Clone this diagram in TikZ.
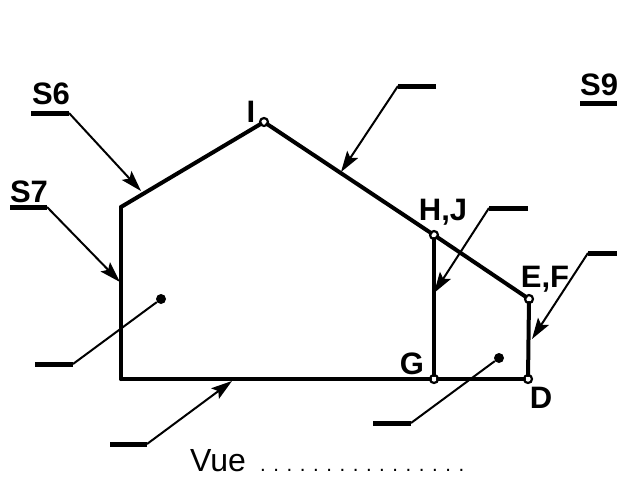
\documentclass[tikz,border=0pt]{standalone}
\usepackage{fontspec}
\setmainfont{Liberation Sans}
\usepackage{tkz-graph}
\usetikzlibrary{arrows.meta}
\tikzset{
  outline/.style={line cap=round},
  bar/.style={line width=5pt},
  leader/.style={line width=2pt,-{Stealth[length=21pt,width=13pt,inset=4pt]}},
  plain leader/.style={line width=2pt},
  point/.style={font=\bfseries\fontsize{31}{31}\selectfont,inner sep=0pt},
  dot/.style={circle,fill=black,inner sep=0pt,minimum size=10pt}
}
\begin{document}
\begin{tikzpicture}[x=1pt,y=-1pt]
        \useasboundingbox (0,0) rectangle (617,477);
        \GraphInit[vstyle=Normal]
        \SetVertexSimple[MinSize=8pt,LineWidth=2.2pt,LineColor=black,FillColor=white]
        \SetUpEdge[lw=4pt,color=black]
        \Vertex[x=264,y=122,NoLabel]{I}
        \Vertex[x=434,y=235,NoLabel]{H}
        \Vertex[x=529,y=299,NoLabel]{E}
        \Vertex[x=528,y=379,NoLabel]{D}
        \Vertex[x=434,y=379,NoLabel]{G}
        \coordinate (K) at (121,207);
        \coordinate (L) at (121,379);
        \Edge[style={outline}](K)(I)
        \Edge[style={outline}](I)(H)
        \Edge[style={outline}](H)(E)
        \Edge[style={outline}](E)(D)
        \Edge[style={outline}](D)(G)
        \Edge[style={outline}](G)(H)
        \Edge[style={outline}](G)(L)
        \Edge[style={outline}](L)(K)
        % labels of the points
        \node[point] (nI) at (251,112) {I};
        \node[point] (nH) at (443,212) {H,J};
        \node[point] (nE) at (545,279) {E,F};
        \node[point] (nG) at (412,364) {G};
        \node[point] (nD) at (541,398) {D};
        % surfaces
        \node[point] (nS6) at (51,94) {S6};
        \node[point] (nS7) at (29,192) {S7};
        \node[point,anchor=west] (nS9) at (580,85) {S9};
        \coordinate (a1) at (31,113);   \coordinate (a2) at (69,113);
        \coordinate (b1) at (10,207);   \coordinate (b2) at (47,207);
        \coordinate (c1) at (436,86);   \coordinate (c2) at (398,86);
        \coordinate (d1) at (528,208);  \coordinate (d2) at (489,208);
        \coordinate (e1) at (617,253);  \coordinate (e2) at (588,253);
        \coordinate (f1) at (580,103);  \coordinate (f2) at (617,103);
        \coordinate (g1) at (35,364);   \coordinate (g2) at (73,364);
        \coordinate (h1) at (373,423);  \coordinate (h2) at (411,423);
        \coordinate (i1) at (110,444);  \coordinate (i2) at (147,444);
        \draw[bar] (a1) -- (a2);
        \draw[bar] (b1) -- (b2);
        \draw[bar] (c1) -- (c2);
        \draw[bar] (d1) -- (d2);
        \draw[bar] (e1) -- (e2);
        \draw[bar] (f1) -- (f2);
        \draw[bar] (g1) -- (g2);
        \draw[bar] (h1) -- (h2);
        \draw[bar] (i1) -- (i2);
        \coordinate (ta) at (141,191);
        \coordinate (tb) at (120,282);
        \coordinate (tc) at (341,172);
        \coordinate (td) at (434,293);
        \coordinate (te) at (532,339);
        \coordinate (ti) at (232,381);
        \draw[leader] (a2) -- (ta);
        \draw[leader] (b2) -- (tb);
        \draw[leader] (c2) -- (tc);
        \draw[leader] (d2) -- (td);
        \draw[leader] (e2) -- (te);
        \draw[leader] (i2) -- (ti);
        \node[dot] (dg) at (161,299) {};
        \node[dot] (dh) at (499,358) {};
        \draw[plain leader] (g2) -- (dg);
        \draw[plain leader] (h2) -- (dh);
        \node[anchor=base west,inner sep=0pt,font=\fontsize{32}{32}\selectfont] (vue) at (190,471) {Vue};
        \node[anchor=base west,inner sep=0pt,font=\fontsize{20.4}{20.4}\selectfont] (pts) at (260,471) {. . . . . . . . . . . . . . . .};
    \end{tikzpicture}
\end{document}
